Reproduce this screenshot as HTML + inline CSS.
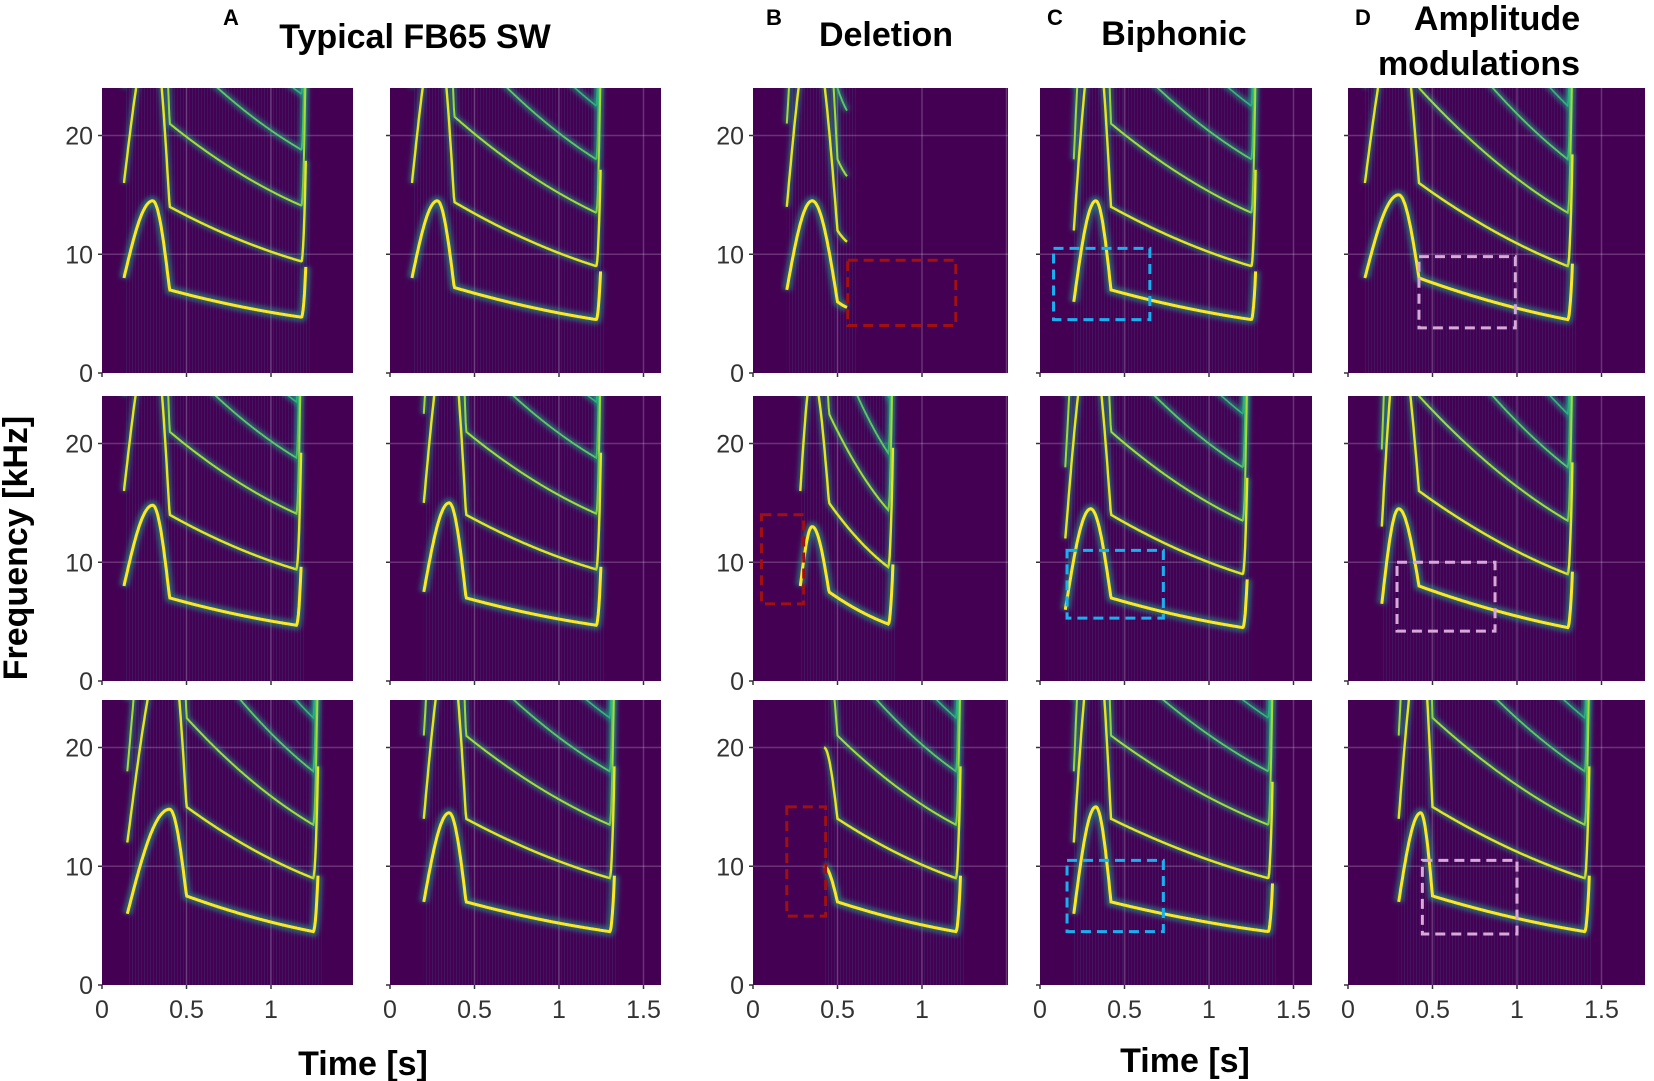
<!DOCTYPE html>
<html><head><meta charset="utf-8"><style>
body{margin:0;background:#fff;width:1654px;height:1081px;overflow:hidden;font-family:"Liberation Sans",sans-serif}
svg{position:absolute;left:0;top:0}
</style></head><body>
<svg id="fig" width="1654" height="1081">
<defs>
<filter id="glow" x="-10%" y="-10%" width="120%" height="120%"><feGaussianBlur stdDeviation="2.5"/></filter>
<pattern id="noise" width="6" height="285" patternUnits="userSpaceOnUse"><rect x="0" y="0" width="1" height="285" fill="#3b5b8c" opacity="0.22"/><rect x="3" y="0" width="1" height="285" fill="#2a788e" opacity="0.15"/></pattern>
</defs>
<g font-weight="bold" fill="#000">
<text x="231" y="25" font-size="22" text-anchor="middle">A</text>
<text x="415" y="48" font-size="34" text-anchor="middle">Typical FB65 SW</text>
<text x="774" y="25" font-size="22" text-anchor="middle">B</text>
<text x="886" y="46" font-size="34" text-anchor="middle">Deletion</text>
<text x="1055" y="25" font-size="22" text-anchor="middle">C</text>
<text x="1174" y="45" font-size="34" text-anchor="middle">Biphonic</text>
<text x="1363" y="25" font-size="22" text-anchor="middle">D</text>
<text x="1497" y="30" font-size="34" text-anchor="middle">Amplitude</text>
<text x="1479" y="75" font-size="34" text-anchor="middle">modulations</text>
<text x="27" y="548" font-size="34" text-anchor="middle" transform="rotate(-90 27 548)">Frequency [kHz]</text>
<text x="363" y="1075" font-size="34" text-anchor="middle">Time [s]</text>
<text x="1185" y="1072" font-size="34" text-anchor="middle">Time [s]</text>
</g>
<g id="panels"></g>
</svg>
<script>
// Layout (not data)
const colLeft=[102,390,753,1040,1348];
const colRight=[353,661,1008,1312,1645];
const colMaxTick=[1,1.5,1,1.5,1.5];
const rowTop=[88,396,700];
const PH=285, SEC=169;
// Data per panel (order: row1 A1,A2,B,C,D; row2 ...; row3 ...)
const panelCol=[0,1,2,3,4, 0,1,2,3,4, 0,1,2,3,4];
const panelRow=[0,0,0,0,0, 1,1,1,1,1, 2,2,2,2,2];
const onsetT=[0.13,0.13,0.2,0.2,0.1, 0.13,0.2,0.28,0.15,0.2, 0.15,0.2,0.42,0.2,0.3];
const onsetF=[8,8,7,6,8, 8,7.5,8,6,6.5, 6,7,10,6,7];
const peakT=[0.3,0.28,0.35,0.33,0.3, 0.3,0.35,0.35,0.3,0.3, 0.4,0.35,0.42,0.33,0.43];
const peakF=[14.5,14.5,14.5,14.5,15, 14.8,15,13,14.5,14.5, 14.8,14.5,10,15,14.5];
const kneeT=[0.4,0.38,0.5,0.42,0.42, 0.4,0.45,0.45,0.42,0.42, 0.5,0.45,0.5,0.42,0.5];
const kneeF=[7,7.2,6,7,8, 7,7,7.5,7,8, 7.5,7,7,7,7.5];
const endT=[1.18,1.22,0.56,1.25,1.3, 1.15,1.22,0.8,1.2,1.3, 1.25,1.3,1.2,1.35,1.4];
const endF=[4.7,4.5,5.5,4.5,4.5, 4.7,4.7,4.8,4.5,4.5, 4.5,4.5,4.5,4.5,4.5];
const truncated=[0,0,1,0,0, 0,0,0,0,0, 0,0,0,0,0];
const yTicks=[0,10,20];
const xTicks=[0,0.5,1,1.5];
const xTickLabels=["0","0.5","1","1.5"];
// Highlight boxes
const boxPanel=[2,7,12,3,8,13,4,9,14];
const boxT0=[0.56,0.05,0.2,0.08,0.16,0.16,0.42,0.29,0.44];
const boxT1=[1.2,0.3,0.43,0.65,0.73,0.73,0.99,0.87,1.0];
const boxF0=[4,6.5,5.8,4.5,5.3,4.5,3.8,4.2,4.3];
const boxF1=[9.5,14,15,10.5,11,10.5,9.8,10,10.5];
const boxColor=["#a01010","#a01010","#a01010","#1ab0f0","#1ab0f0","#1ab0f0","#d8a8d8","#d8a8d8","#d8a8d8"];

const NS="http://www.w3.org/2000/svg";
const root=document.getElementById('panels');
function mk(tag,attrs,parent){const e=document.createElementNS(NS,tag);for(const k in attrs)e.setAttribute(k,attrs[k]);parent.appendChild(e);return e;}
function xs(c,t){return colLeft[c]+t*SEC;}
function ys(r,f){return rowTop[r]+PH-f*(PH/24);}
function fund(i,t){
  if(t<onsetT[i])return null;
  if(t<=peakT[i]){const u=(t-onsetT[i])/Math.max(peakT[i]-onsetT[i],1e-6);return onsetF[i]+(peakF[i]-onsetF[i])*Math.sin(u*Math.PI/2);}
  if(t<=kneeT[i]){const u=(t-peakT[i])/(kneeT[i]-peakT[i]);return peakF[i]+(kneeF[i]-peakF[i])*(1-Math.cos(u*Math.PI/2));}
  if(t<=endT[i]){const u=(t-kneeT[i])/(endT[i]-kneeT[i]);return kneeF[i]+(endF[i]-kneeF[i])*(1-(1-u)*(1-u)*0.3-0.7*(1-u)) ;}
  if(truncated[i])return null;
  const u=(t-endT[i])/0.03; if(u>1)return null; return endF[i]*(1+u*u*1.2);
}
const hColor=['#fde725','#e8e41f','#a8db34','#5ec962','#35b779'];
const hWidth=[3,2.4,2,1.8,1.6];
for(let i=0;i<panelCol.length;i++){
  const c=panelCol[i],r=panelRow[i];
  const g=mk('g',{},root);
  
  
  const x0=colLeft[c],w=colRight[c]-colLeft[c],y0=rowTop[r];
  const cp=mk('clipPath',{id:'cp'+i},g);mk('rect',{x:x0,y:y0,width:w,height:PH},cp);
  mk('rect',{x:x0,y:y0,width:w,height:PH,fill:'#440154'},g);
  const inner=mk('g',{'clip-path':'url(#cp'+i+')'},g);
  mk('rect',{x:xs(c,onsetT[i]),y:y0,width:(endT[i]+0.05-onsetT[i])*SEC,height:PH,fill:'url(#noise)'},inner);
  for(const f of [10,20])mk('line',{x1:x0,x2:x0+w,y1:ys(r,f),y2:ys(r,f),stroke:'#fff','stroke-opacity':0.2,'stroke-width':1.5},inner);
  for(const t of [0.5,1,1.5])mk('line',{x1:xs(c,t),x2:xs(c,t),y1:y0,y2:y0+PH,stroke:'#fff','stroke-opacity':0.2,'stroke-width':1.5},inner);
  for(let h=5;h>=1;h--){
    let pts=[];
    for(let t=onsetT[i];t<=endT[i]+0.035;t+=0.004){const f=fund(i,t);if(f===null)continue;pts.push(xs(c,t).toFixed(1)+','+ys(r,f*h).toFixed(1));}
    if(pts.length<2)continue;
    const glow=mk('polyline',{points:pts.join(' '),fill:'none',stroke:'#21a585','stroke-width':h==1?9:6,'stroke-opacity':0.6,filter:'url(#glow)'},inner);
    
    
    const core=mk('polyline',{points:pts.join(' '),fill:'none',stroke:hColor[h-1],'stroke-width':hWidth[h-1]},inner);
    
    
  }
  for(const f of yTicks)mk('line',{x1:x0-4,x2:x0,y1:ys(r,f),y2:ys(r,f),stroke:'#333','stroke-width':1.5},g);
  for(const t of xTicks){if(t<=colMaxTick[c])mk('line',{x1:xs(c,t),x2:xs(c,t),y1:y0+PH,y2:y0+PH+4,stroke:'#333','stroke-width':1.5},g);}
  if(c==0||c==2){
    for(const f of yTicks){const tx=mk('text',{x:x0-9,y:ys(r,f)+9,'font-size':25,fill:'#333','text-anchor':'end'},g);tx.textContent=f;
      
      }
  }
  if(r==2){
    xTicks.forEach((t,k)=>{if(t>colMaxTick[c])return;const tx=mk('text',{x:xs(c,t),y:y0+PH+33,'font-size':25,fill:'#333','text-anchor':'middle'},g);tx.textContent=xTickLabels[k];
      
      });
  }
}
boxPanel.forEach((p,k)=>{
  const c=panelCol[p],r=panelRow[p];
  const b=mk('rect',{x:xs(c,boxT0[k]),y:ys(r,boxF1[k]),width:(boxT1[k]-boxT0[k])*SEC,height:(boxF1[k]-boxF0[k])*PH/24,fill:'none',stroke:boxColor[k],'stroke-width':3,'stroke-dasharray':'10 6'},root);
  
  
});
</script>
</body></html>
